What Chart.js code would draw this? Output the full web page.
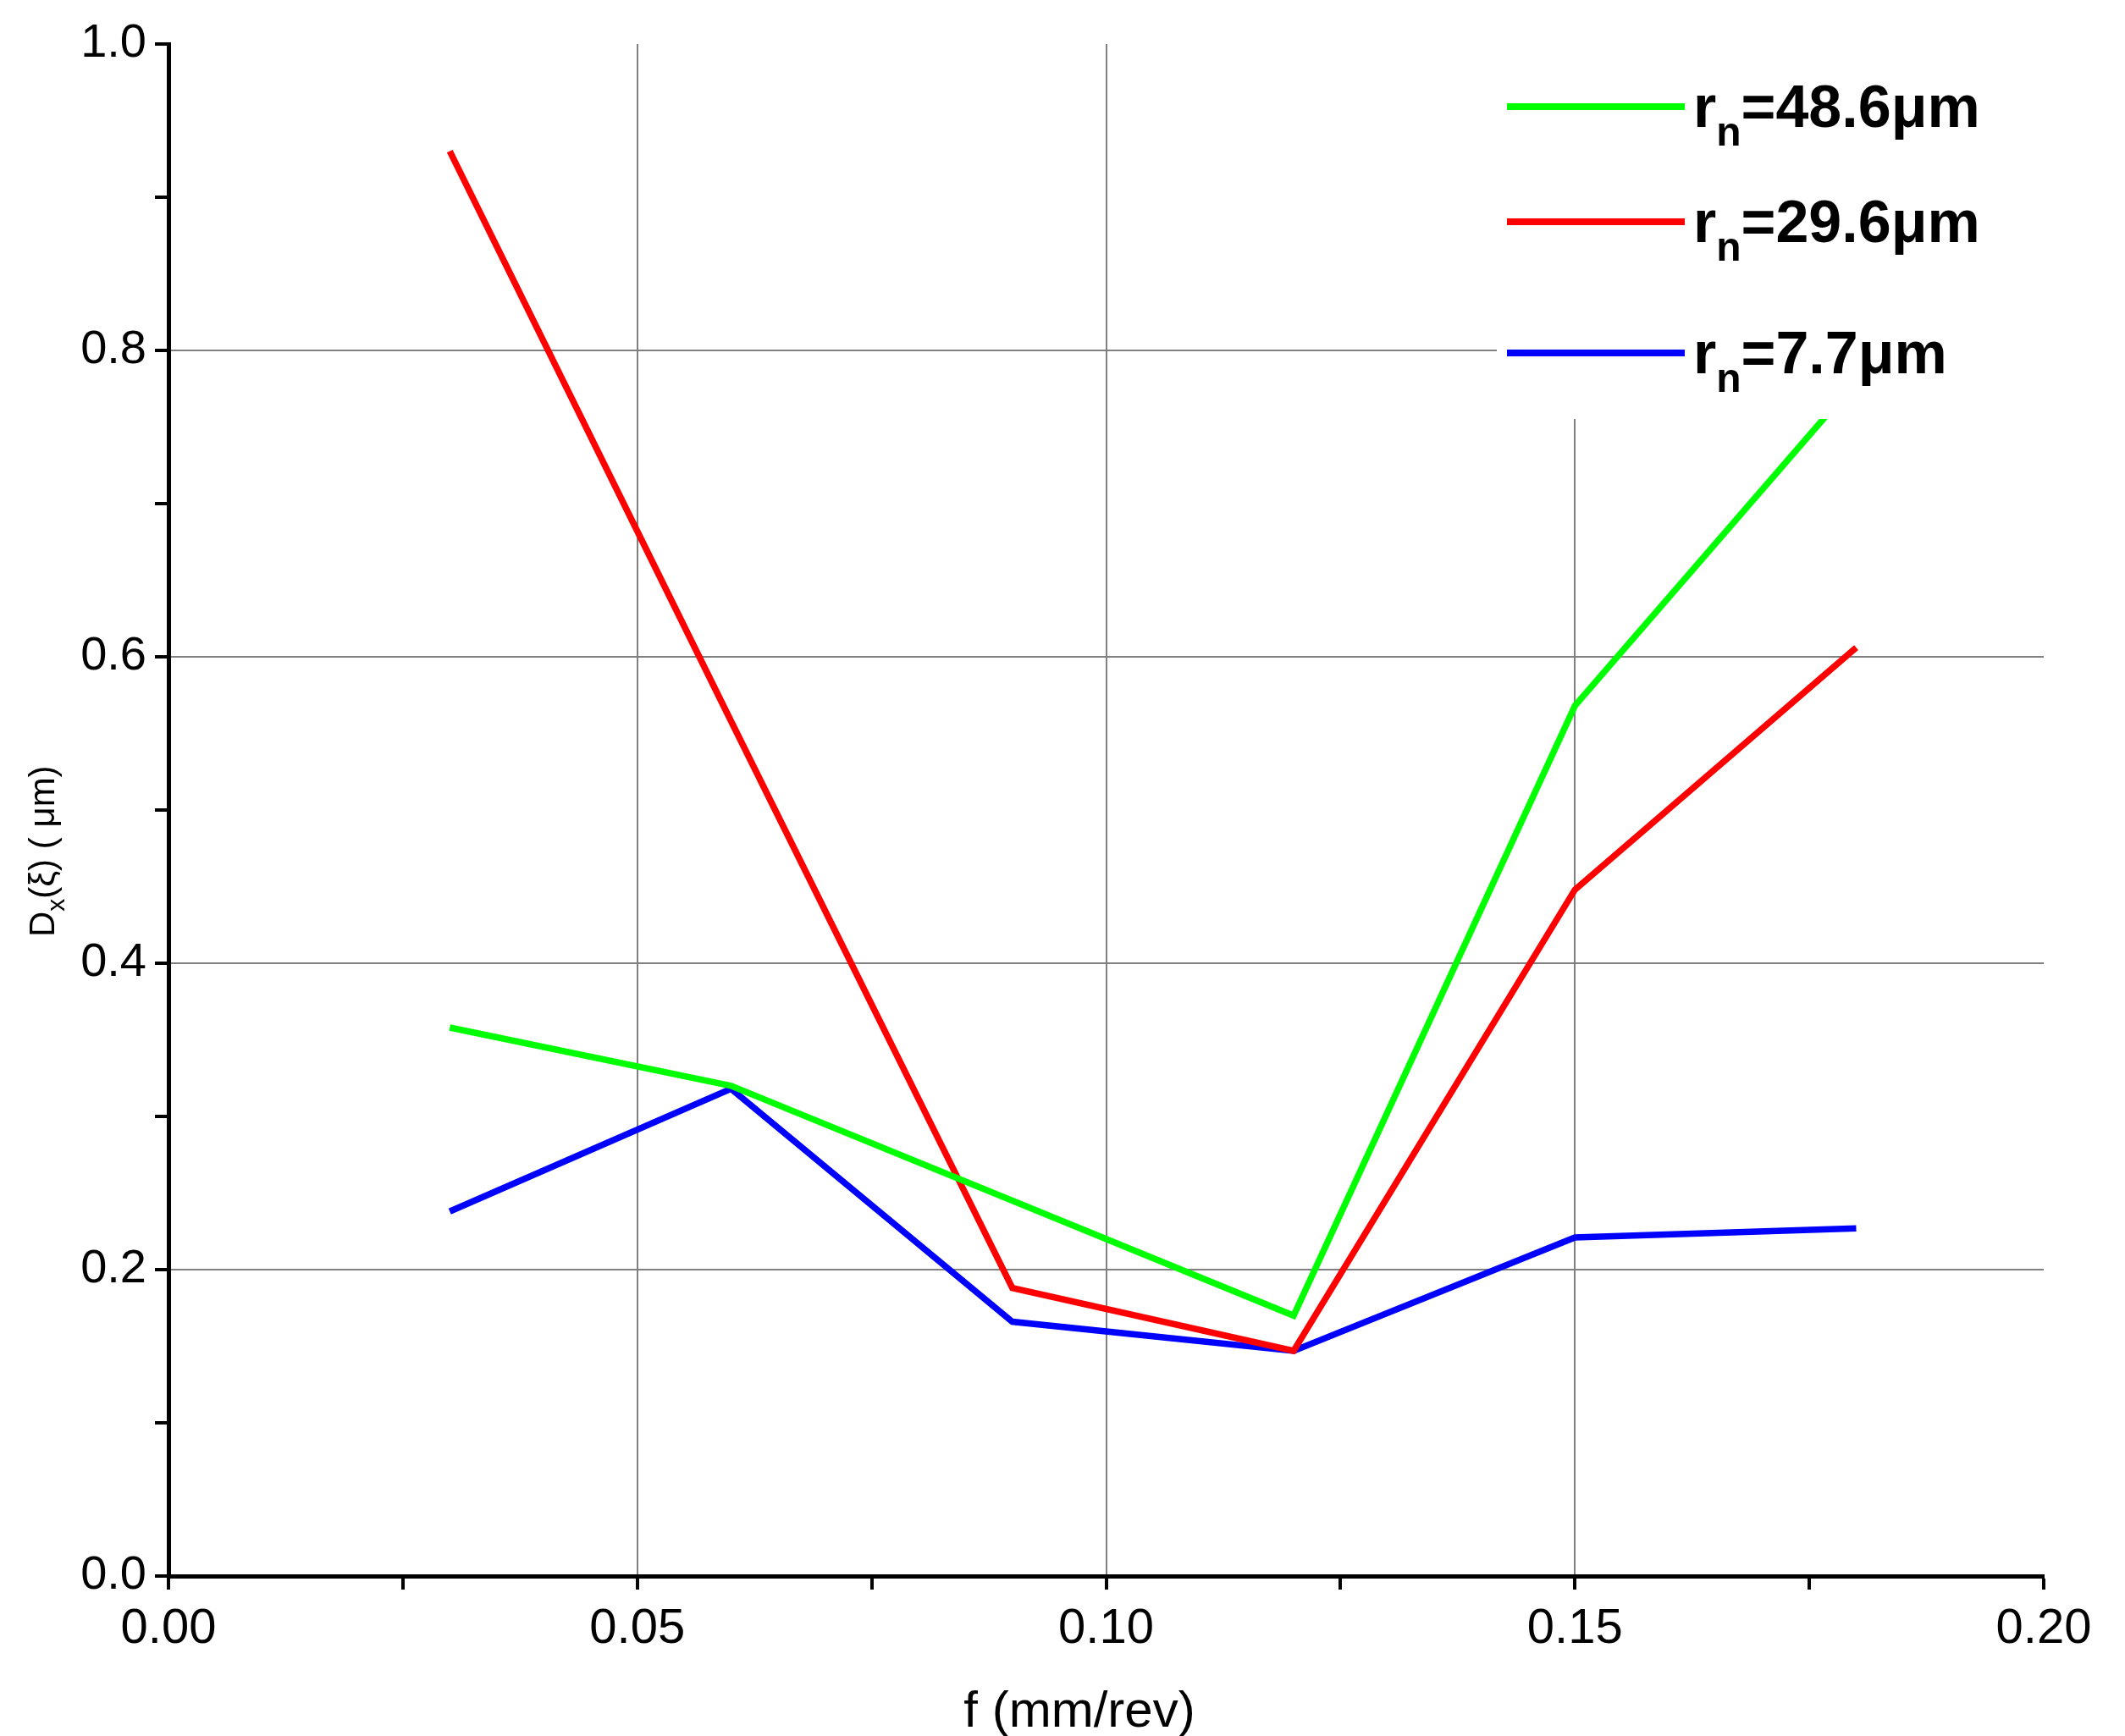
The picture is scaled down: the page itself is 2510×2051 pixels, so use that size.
<!DOCTYPE html>
<html><head><meta charset="utf-8">
<script src="https://cdn.jsdelivr.net/npm/chart.js@4"></script>
<style>html,body{margin:0;padding:0;background:#fff}#w{width:2510px;height:2051px}</style>
</head><body><div id="w"><canvas id="c"></canvas></div>
<script>
const feeds = [0.03, 0.06, 0.09, 0.12, 0.15, 0.18];
const green486 = [0.358, 0.320, 0.245, 0.170, 0.568, 0.78];
const red296 = [0.930, 0.558, 0.188, 0.147, 0.448, 0.606];
const blue77 = [0.238, 0.318, 0.166, 0.147, 0.221, 0.227];
const legendNames = ['48.6μm', '29.6μm', '7.7μm'];
const legendColors = ['#00ff00', '#ff0000', '#0000ff'];
const xTickLabels = ['0.00','0.05','0.10','0.15','0.20'];
const yTickLabels = ['0.0','0.2','0.4','0.6','0.8','1.0'];

const mk = (arr) => feeds.map((x,i)=>({x, y: arr[i]}));
const near = (v, s) => Math.abs(v/s - Math.round(v/s)) < 1e-6;
const FONT = 'Liberation Sans, Arial, sans-serif';
const NFONT = '"Liberation Sans Narrow", ' + FONT;

const overlay = {
  id: 'overlay',
  afterDraw(chart) {
    const ctx = chart.ctx, a = chart.chartArea;
    ctx.save();
    ctx.fillStyle = '#fff';
    ctx.fillRect(1768, 40, 2510 - 1768, 455);
    const ys = [126, 262, 417];
    ys.forEach((y, i) => {
      ctx.strokeStyle = legendColors[i]; ctx.lineWidth = 8;
      ctx.beginPath(); ctx.moveTo(1780, y); ctx.lineTo(1990, y); ctx.stroke();
      ctx.fillStyle = '#000'; ctx.textBaseline = 'alphabetic'; ctx.textAlign = 'left';
      ctx.font = 'bold 70px ' + NFONT;
      ctx.fillText('r', 2000, y + 24);
      const rw = ctx.measureText('r').width;
      ctx.font = 'bold 48px ' + NFONT;
      ctx.fillText('n', 2000 + rw, y + 46);
      const nw = ctx.measureText('n').width;
      ctx.font = 'bold 70px ' + NFONT;
      ctx.fillText('=' + legendNames[i], 2000 + rw + nw, y + 24);
    });
    ctx.fillStyle = '#000'; ctx.textAlign = 'center';
    ctx.font = '60px ' + FONT;
    ctx.fillText('f (mm/rev)', 1275, 2040);
    ctx.translate(64, (a.top + a.bottom) / 2 + 40);
    ctx.rotate(-Math.PI / 2);
    ctx.textAlign = 'left';
    ctx.font = '42px ' + FONT;
    let x0 = -110;
    ctx.fillText('D', x0, 0); x0 += ctx.measureText('D').width;
    ctx.font = '30px ' + FONT; ctx.fillText('x', x0, 12); x0 += ctx.measureText('x').width;
    ctx.font = '42px ' + FONT; ctx.fillText('(ξ) ( μm)', x0, 0);
    ctx.restore();
  }
};

new Chart(document.getElementById('c'), {
  type: 'line',
  data: { datasets: [
    { data: mk(green486), borderColor: '#00ff00' },
    { data: mk(red296), borderColor: '#ff0000' },
    { data: mk(blue77), borderColor: '#0000ff' }
  ].map(d => Object.assign(d, { borderWidth: 7.5, pointRadius: 0, fill: false, tension: 0, clip: false })) },
  options: {
    responsive: true, maintainAspectRatio: false, animation: false,
    layout: { padding: { top: 52, right: 96, left: 0, bottom: 0 } },
    plugins: { legend: { display: false }, tooltip: { enabled: false } },
    scales: {
      x: {
        type: 'linear', min: 0, max: 0.2,
        afterFit: s => { s.height = 189; },
        afterBuildTicks: s => { s.ticks = []; for (let i = 0; i <= 8; i++) s.ticks.push({ value: i * 0.025 }); },
        ticks: { autoSkip: false, maxRotation: 0, color: '#000', font: { size: 58, family: FONT }, padding: 12,
          callback: v => near(v, 0.05) ? xTickLabels[Math.round(v / 0.05)] : '' },
        grid: { drawOnChartArea: true, tickLength: 16, tickWidth: 4, tickColor: '#000', lineWidth: 2,
          color: c => (c.tick && near(c.tick.value, 0.05) && c.tick.value > 0.001 && c.tick.value < 0.199) ? '#808080' : 'rgba(0,0,0,0)' },
        border: { color: '#000', width: 5 }
      },
      y: {
        min: 0, max: 1,
        afterFit: s => { s.width = 199; },
        afterBuildTicks: s => { s.ticks = []; for (let i = 0; i <= 10; i++) s.ticks.push({ value: i * 0.1 }); },
        ticks: { autoSkip: false, color: '#000', font: { size: 56, family: FONT }, padding: 10,
          callback: v => near(v, 0.2) ? yTickLabels[Math.round(v / 0.2)] : '' },
        grid: { tickLength: 16, tickWidth: 4, tickColor: '#000', lineWidth: 2,
          color: c => (c.tick && near(c.tick.value, 0.2) && c.tick.value > 0.01 && c.tick.value < 0.99) ? '#808080' : 'rgba(0,0,0,0)' },
        border: { color: '#000', width: 5 }
      }
    }
  },
  plugins: [overlay]
});
</script></body></html>
